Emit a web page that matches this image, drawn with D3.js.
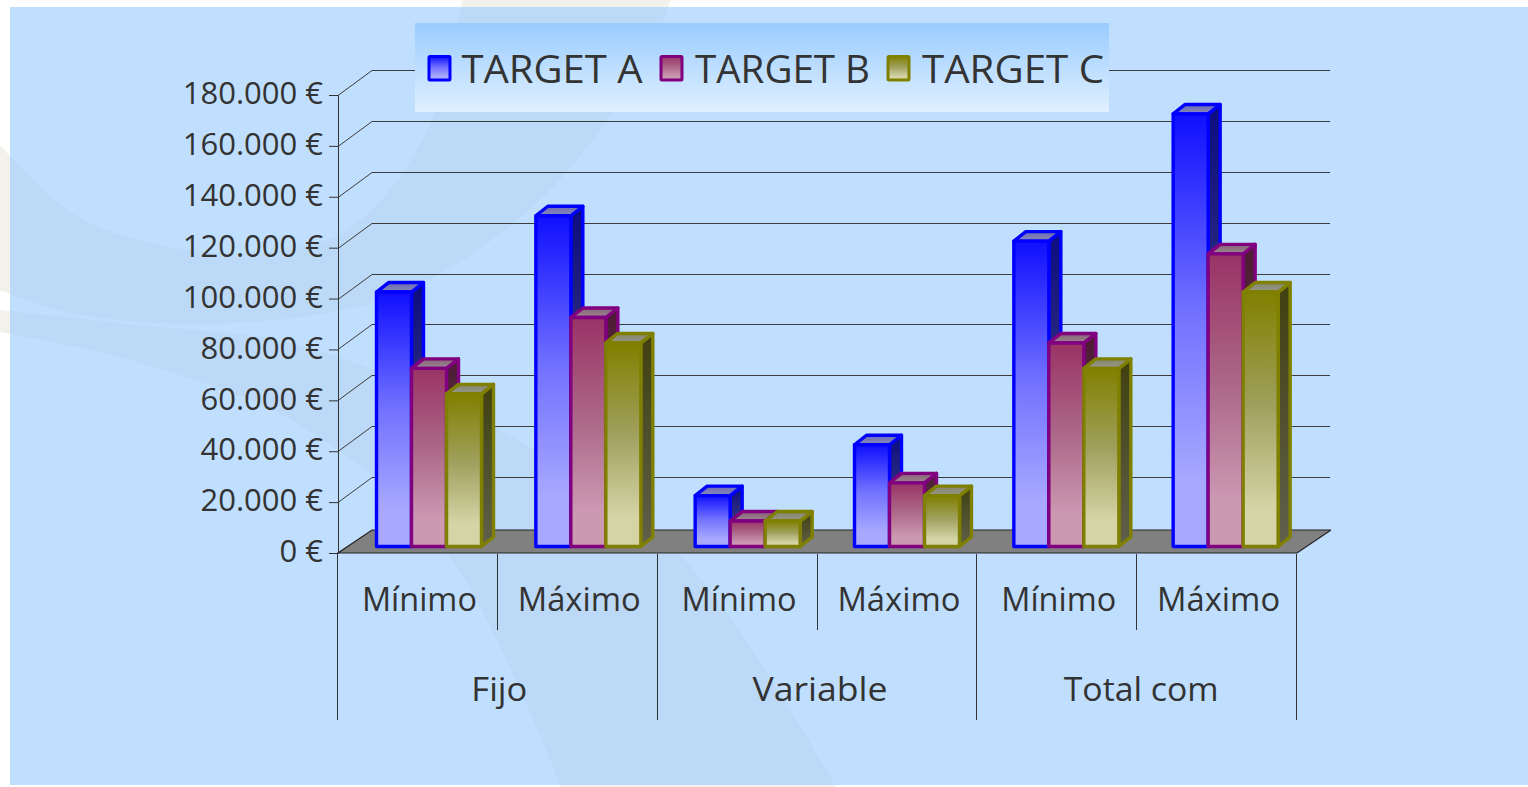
<!DOCTYPE html>
<html>
<head>
<meta charset="utf-8">
<script src="https://cdnjs.cloudflare.com/ajax/libs/d3/7.8.5/d3.min.js"></script>
<style>
html,body{margin:0;padding:0;background:#fff;overflow:hidden}
svg{display:block}
text{font-family:"Open Sans",sans-serif;fill:#333}
</style>
</head>
<body>
<svg id="c" width="1528" height="787"></svg>
<script>
const groups = ["Fijo", "Variable", "Total com"];
const subLabels = ["Mínimo", "Máximo"];
const seriesNames = ["TARGET A", "TARGET B", "TARGET C"];
const targetA = [100000, 130000, 20000, 40000, 120000, 170000];
const targetB = [70000, 90000, 10000, 25000, 80000, 115000];
const targetC = [60000, 80000, 10000, 20000, 70000, 100000];
const yTicks = [0, 20000, 40000, 60000, 80000, 100000, 120000, 140000, 160000, 180000];
const strokes = ["#0000ff", "#800080", "#808000"];
const frontTop = ["#0f0fff", "#993366", "#808000"];
const frontMid = ["#7070ff", "#ac6888", "#a0a05e"];
const frontBottom = ["#a8a8ff", "#cc99b3", "#d4d4a6"];
const sideTop = ["#0c0c80", "#4d1a33", "#404010"];
const sideBottom = ["#54547f", "#66525c", "#60604c"];
const topA = ["#6c6cb4", "#8a5f76", "#86866a"];
const topB = ["#8888bb", "#998a92", "#96968a"];

const svg = d3.select("#c");
const defs = svg.append("defs");
function grad(id, c1, c2, cMid) {
  const g = defs.append("linearGradient").attr("id", id).attr("x1", 0).attr("y1", 0).attr("x2", 0).attr("y2", 1);
  g.append("stop").attr("offset", 0).attr("stop-color", c1);
  if (cMid) {
    g.append("stop").attr("offset", 0.45).attr("stop-color", cMid);
    g.append("stop").attr("offset", 0.85).attr("stop-color", c2);
  }
  g.append("stop").attr("offset", 1).attr("stop-color", c2);
}
seriesNames.forEach((_, i) => {
  grad("front" + i, frontTop[i], frontBottom[i], frontMid[i]);
  grad("side" + i, sideTop[i], sideBottom[i]);
  grad("top" + i, topA[i], topB[i]);
});
grad("legendBg", "#99ccff", "#e0f0ff");

// background
const W = 1528, H = 787;
svg.append("rect").attr("width", W).attr("height", H).attr("fill", "#ffffff");
const bgCurve = d3.line().curve(d3.curveCatmullRom.alpha(0.5));
const crescentUpper = [[0,145],[70,212],[150,243],[260,253],[350,228],[425,135],[462,0]];
const crescentLower = [[671,0],[640,70],[540,200],[400,293],[250,322],[80,315],[0,290]];
const ribbonUpper = [[0,310],[137,325],[300,345],[500,430],[680,555],[836,787]];
const ribbonLower = [[561,787],[445,550],[300,425],[130,360],[0,332]];
function band(parent, upper, lower, fill) {
  const p = bgCurve(upper) + "L" + bgCurve(lower).slice(1) + "Z";
  parent.append("path").attr("d", p).attr("fill", fill);
}
band(svg, crescentUpper, crescentLower, "#f2f1ec");
band(svg, ribbonUpper, ribbonLower, "#f2f1ec");
svg.append("rect").attr("x", 10).attr("y", 7).attr("width", W - 10).attr("height", 778).attr("fill", "#c0dfff");
const panel = defs.append("clipPath").attr("id", "panel");
panel.append("rect").attr("x", 10).attr("y", 7).attr("width", W - 10).attr("height", 778);
const bgG = svg.append("g").attr("clip-path", "url(#panel)");
band(bgG, crescentUpper, crescentLower, "#bcd9f7");
band(bgG, ribbonUpper, ribbonLower, "#bcd9f7");

// scales
const x = d3.scaleBand().domain(d3.range(targetA.length)).range([338, 1297]);
const xBars = d3.scaleBand().domain(d3.range(targetA.length)).range([338, 1294]);
const y = d3.scaleLinear().domain([0, 180000]).range([553, 95]);
const depthX = 34, depthY = -23, gridDepthY = -25;

// back grid
const grid = svg.append("g").attr("fill", "none").attr("stroke", "#3c3c3c").attr("stroke-width", 1);
yTicks.slice(1).forEach(t => {
  const yy = Math.round(y(t)) + 0.5;
  grid.append("path").attr("d", `M338,${yy}L${338 + depthX},${yy + gridDepthY}H${1296 + depthX}`);
});

// floor
svg.append("path")
  .attr("d", `M${x.range()[0]},${y(0)}l${depthX},${depthY}H${x.range()[1] + depthX}L${x.range()[1]},${y(0)}Z`)
  .attr("fill", "#808080").attr("stroke", "none");
svg.append("path")
  .attr("d", `M${x.range()[1] + depthX},${y(0) + depthY}H${x.range()[0] + depthX}L${x.range()[0]},${y(0)}H${x.range()[1]}L${x.range()[1] + depthX},${y(0) + depthY}`)
  .attr("fill", "none").attr("stroke", "#222").attr("stroke-width", 1.2);

// axis
const loc = d3.formatLocale({decimal: ",", thousands: ".", grouping: [3], currency: ["", " €"]});
const fmt = loc.format("$,.0f");
const axis = d3.axisLeft(y).tickValues(yTicks).tickSize(9).tickPadding(6).tickFormat(fmt);
const axG = svg.append("g").attr("transform", "translate(338,0)").call(axis);
axG.selectAll("path,line").attr("stroke", "#333").attr("stroke-width", 1);
axG.selectAll("text").attr("font-size", 31).style("font-family", '"Open Sans",sans-serif').style("fill", "#333").attr("dy", "0.28em");

// bars
const barW = 35, offX = 38.5, sdx = 12, sdy = -9.5, baseLift = 6.5;
const allSeries = [targetA, targetB, targetC];
const barsG = svg.append("g").attr("stroke-width", 3.4).attr("stroke-linejoin", "round");
d3.range(targetA.length).forEach(k => {
  allSeries.forEach((vals, s) => {
    const x0 = xBars(k) + offX + s * barW, x1 = x0 + barW;
    const yT = y(vals[k]) - baseLift, yB = y(0) - baseLift;
    const c = strokes[s];
    const g = barsG.append("g").attr("stroke", c);
    g.append("path").attr("d", `M${x1},${yT}l${sdx},${sdy}V${yB + sdy}l${-sdx},${-sdy}Z`).attr("fill", `url(#side${s})`);
    g.append("path").attr("d", `M${x0},${yT}l${sdx},${sdy}H${x1 + sdx}l${-sdx},${-sdy}Z`).attr("fill", `url(#top${s})`);
    g.append("rect").attr("x", x0).attr("y", yT).attr("width", x1 - x0).attr("height", yB - yT).attr("fill", `url(#front${s})`);
  });
});

// category rules and labels
const rules = svg.append("g").attr("stroke", "#333").attr("stroke-width", 1);
d3.range(targetA.length + 1).forEach(k => {
  const xx = Math.round(k < targetA.length ? x(k) : x.range()[1]) - 0.5;
  rules.append("line").attr("x1", xx).attr("x2", xx).attr("y1", 554).attr("y2", k % 2 === 0 ? 720 : 630);
});
d3.range(targetA.length).forEach(k => {
  svg.append("text").text(subLabels[k % 2]).attr("x", x(k) + x.bandwidth() / 2 + 1.5).attr("y", 611)
    .attr("text-anchor", "middle").attr("font-size", 32)
    .attr("textLength", 115 + (k % 2) * 8).attr("lengthAdjust", "spacingAndGlyphs");
});
const groupLen = [56, 135, 155];
const groupNudge = [1.5, 2.5, 4];
groups.forEach((g, i) => {
  svg.append("text").text(g).attr("x", x(i * 2) + x.bandwidth() + groupNudge[i]).attr("y", 701)
    .attr("text-anchor", "middle").attr("font-size", 32)
    .attr("textLength", groupLen[i]).attr("lengthAdjust", "spacingAndGlyphs");
});

// legend
svg.append("rect").attr("x", 415).attr("y", 23).attr("width", 694).attr("height", 89).attr("fill", "url(#legendBg)");
const swX = [429, 661, 888], txX = [461.5, 695, 922], txLen = [181, 175, 182];
seriesNames.forEach((n, i) => {
  svg.append("rect").attr("x", swX[i]).attr("y", 56.5).attr("width", 21).attr("height", 23.5).attr("rx", 1)
    .attr("fill", `url(#front${i})`).attr("stroke", strokes[i]).attr("stroke-width", 3);
  svg.append("text").text(n).attr("x", txX[i]).attr("y", 83).attr("font-size", 39)
    .attr("textLength", txLen[i]).attr("lengthAdjust", "spacingAndGlyphs");
});
</script>
</body>
</html>
